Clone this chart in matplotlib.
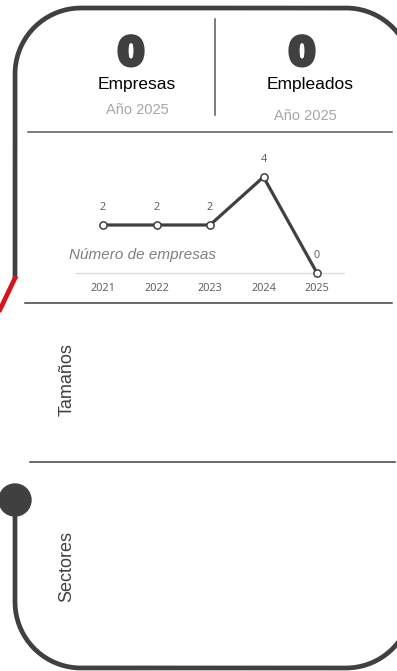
import numpy as np
import matplotlib.pyplot as plt
import matplotlib.patheffects as pe
from matplotlib.patches import Circle

# datos
years = [2021, 2022, 2023, 2024, 2025]
empresas = [2, 2, 2, 4, 0]
total_empresas = 0
total_empleados = 0
anio = 2025

W, H = 397, 671
dark = "#404040"

fig = plt.figure(figsize=(W / 100, H / 100), dpi=100)
fig.patch.set_facecolor("white")

# capa de fondo en pixeles (origen arriba a la izquierda)
bg = fig.add_axes([0, 0, 1, 1])
bg.set_xlim(0, W)
bg.set_ylim(H, 0)
bg.axis("off")


def arc(cx, cy, r, a0, a1, n=40):
    t = np.radians(np.linspace(a0, a1, n))
    return list(cx + r * np.cos(t)), list(cy + r * np.sin(t))


lw = 3.4
# borde redondeado (y hacia abajo)
xl, xr, yt, yb = 15, 412, 8, 668
r = 66
px, py = [xl], [277]
for seg in [arc(xl + r, yt + r, r, 180, 270),
            arc(xr - r, yt + r, r, 270, 360),
            arc(xr - r, yb - r, r, 0, 90),
            arc(xl + r, yb - r, r, 90, 180)]:
    px += seg[0]
    py += seg[1]
px.append(xl)
py.append(500)
bg.plot(px, py, color=dark, lw=lw, solid_joinstyle="round")
bg.add_patch(Circle((xl, 500), 16, color=dark))

# linea roja
bg.plot([xl + 1, -4], [276, 318], color="#d7141e", lw=lw, solid_capstyle="butt")

# separadores
bg.plot([215, 215], [19, 115], color="#595959", lw=1.1)
bg.plot([28, 392], [132, 132], color="#595959", lw=1.1)
bg.plot([25, 392], [303, 303], color="#404040", lw=1.1)
bg.plot([30, 395], [462, 462], color="#404040", lw=1.1)

# KPIs
thick = [pe.withStroke(linewidth=2.8, foreground=dark)]
bg.text(131, 54, str(total_empresas), fontsize=28, fontweight="bold", color=dark,
        ha="center", va="center", path_effects=thick)
bg.text(302, 54, str(total_empleados), fontsize=28, fontweight="bold", color=dark,
        ha="center", va="center", path_effects=thick)
bg.text(137, 85, "Empresas", family="Liberation Sans", fontsize=12.5, color="black",
        ha="center", va="center")
bg.text(310, 85, "Empleados", family="Liberation Sans", fontsize=12.5, color="black",
        ha="center", va="center")
bg.text(137, 110, f"Año {anio}", family="Liberation Sans", fontsize=10.5, color="#a6a6a6",
        ha="center", va="center")
bg.text(305, 116, f"Año {anio}", family="Liberation Sans", fontsize=10.5, color="#a6a6a6",
        ha="center", va="center")

# titulos de secciones
bg.text(67, 380, "Tamaños", family="Liberation Sans", fontsize=13, color=dark,
        rotation=90, ha="center", va="center")
bg.text(67, 567, "Sectores", family="Liberation Sans", fontsize=13, color=dark,
        rotation=90, ha="center", va="center")

# grafico de lineas
ppu = 24.0
ytop = 4.6
ax = fig.add_axes([76.25 / W, (H - 273) / H, 267.5 / W, ytop * ppu / H])
ax.set_xlim(2020.5, 2025.5)
ax.set_ylim(0, ytop)
ax.patch.set_alpha(0)
for s in ["top", "right", "left"]:
    ax.spines[s].set_visible(False)
ax.spines["bottom"].set_color("#d9d9d9")
ax.spines["bottom"].set_linewidth(0.9)
ax.set_yticks([])
ax.set_xticks(years)
ax.set_xticklabels([str(y) for y in years], family="Open Sans", fontsize=7.8, color="#595959")
ax.tick_params(axis="x", length=0, pad=7)

ax.plot(years, empresas, color=dark, lw=2.3, marker="o", markersize=5.2,
        markerfacecolor="white", markeredgecolor=dark, markeredgewidth=1.1, clip_on=False,
        zorder=3)
for x, v in zip(years, empresas):
    ax.annotate(str(v), (x, v), xytext=(0, 12.5), textcoords="offset points",
                ha="center", va="center", family="Open Sans", fontsize=7.8, color="#595959")

bg.text(69, 255, "Número de empresas", family="Liberation Sans", fontsize=11,
        style="italic", color="#7f7f7f", ha="left", va="center")

fig.savefig("out.png", dpi=100, facecolor="white")
